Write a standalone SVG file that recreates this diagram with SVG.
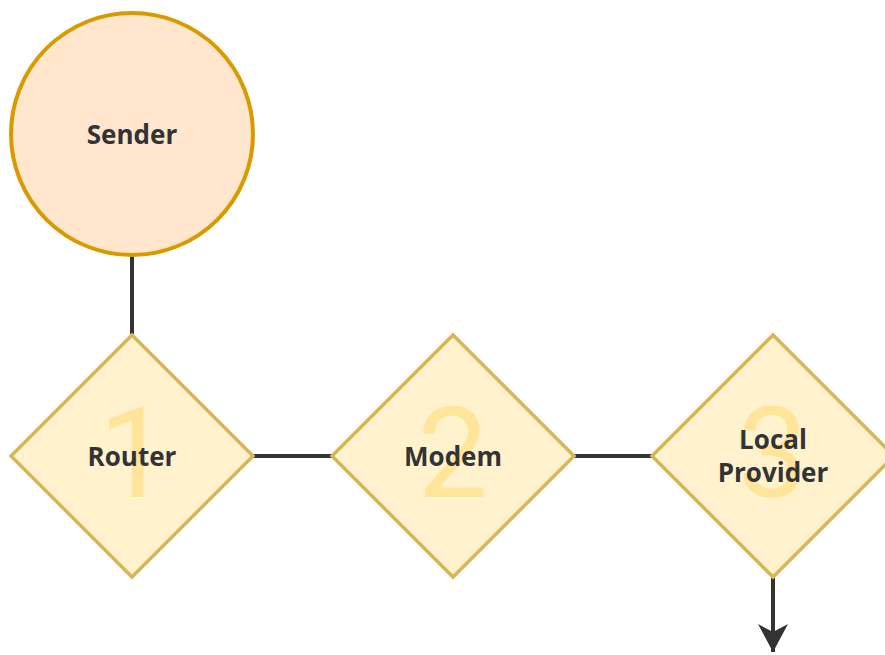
<svg xmlns="http://www.w3.org/2000/svg" width="885" height="655" viewBox="0 0 885 655">
  <style>
    .edge { fill: none; stroke: #333333; stroke-width: 4; }
    .step { fill: #fff2cc; stroke: #d6b656; stroke-width: 3.5; }
    .num { font-family: Roboto, "Liberation Sans", sans-serif; font-weight: 400; font-size: 126px; fill: #ffe599; text-anchor: middle; }
    .label { font-family: "Open Sans", "Liberation Sans", sans-serif; font-weight: bold; font-size: 26px; fill: #333333; text-anchor: middle; }
  </style>
  <defs>
    <marker id="arrow" viewBox="0 0 30 30" refX="28" refY="15" markerWidth="30" markerHeight="30" markerUnits="userSpaceOnUse" orient="auto">
      <path d="M0,0 L28,15 L0,30 L8,15 Z" fill="#333333"/>
    </marker>
  </defs>
  <rect width="885" height="655" fill="#ffffff"/>

  <g id="connectors">
    <line class="edge" x1="132" y1="256" x2="132" y2="334"/>
    <line class="edge" x1="253" y1="456" x2="332" y2="456"/>
    <line class="edge" x1="574" y1="456" x2="653" y2="456"/>
    <line class="edge" x1="773" y1="578" x2="773" y2="652" marker-end="url(#arrow)"/>
  </g>

  <g id="sender">
    <circle cx="132" cy="134" r="121" fill="#ffe6cc" stroke="#d79b00" stroke-width="4"/>
    <text class="label" x="132" y="144">Sender</text>
  </g>

  <g id="router">
    <polygon class="step" points="132,335 253,456 132,577 11,456"/>
    <text class="num" x="134" y="497">1</text>
    <text class="label" x="132" y="466">Router</text>
  </g>

  <g id="modem">
    <polygon class="step" points="453,335 574,456 453,577 332,456"/>
    <text class="num" x="453" y="497">2</text>
    <text class="label" x="453" y="466">Modem</text>
  </g>

  <g id="local-provider">
    <polygon class="step" points="773,335 894,456 773,577 652,456"/>
    <text class="num" x="773" y="497">3</text>
    <text class="label" x="773" y="449">Local</text>
    <text class="label" x="773" y="482">Provider</text>
  </g>
</svg>
